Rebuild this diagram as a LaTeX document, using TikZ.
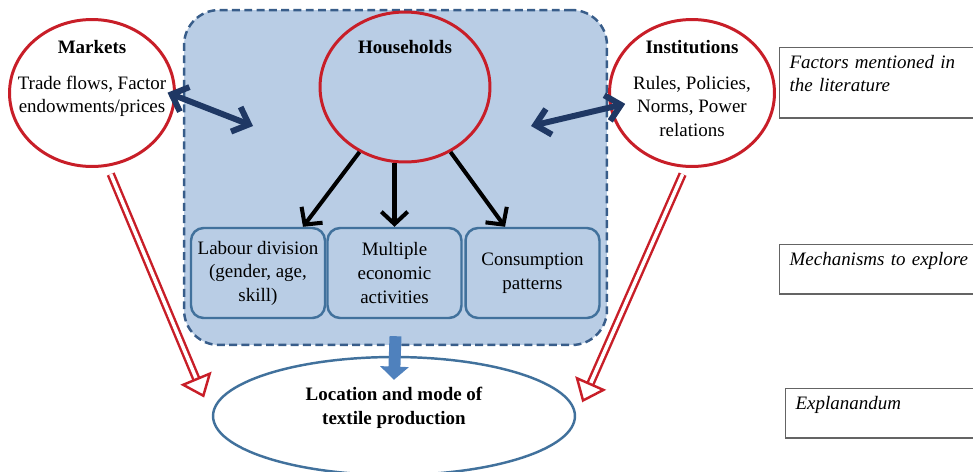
\documentclass[tikz,border=0pt]{standalone}
\usepackage{fontspec}
\setmainfont{Liberation Serif}
\usetikzlibrary{shapes.geometric,arrows.meta}
\definecolor{zoneFill}{RGB}{185,205,229}
\definecolor{zoneEdge}{RGB}{56,93,138}
\definecolor{boxEdge}{RGB}{65,113,156}
\definecolor{factorRed}{RGB}{200,30,40}
\definecolor{linkNavy}{RGB}{31,56,100}
\definecolor{blockBlue}{RGB}{79,129,189}
\definecolor{noteGray}{RGB}{100,100,100}
\tikzset{
  every node/.style={font=\fontsize{10.8}{13.4}\selectfont},
  factor/.style={ellipse, draw=factorRed, line width=1.7pt, inner sep=0pt,
    minimum width=3.3cm, minimum height=2.94cm},
  zone/.style={draw=zoneEdge, fill=zoneFill, line width=1.4pt,
    dash pattern=on 4.5pt off 2.5pt, rounded corners=0.7cm,
    minimum width=8.46cm, minimum height=6.7cm},
  mech/.style={draw=boxEdge, line width=1.4pt, rounded corners=0.25cm,
    minimum width=2.68cm, minimum height=1.8cm, align=center, inner sep=0pt},
  note/.style={draw=noteGray, line width=0.7pt, anchor=north west,
    text width=4.6cm, align=left, inner xsep=0.2cm, inner ysep=4.3pt,
    font=\fontsize{10.8}{13.4}\selectfont\itshape},
  ttl/.style={font=\fontsize{10.8}{13.4}\selectfont\bfseries, align=center},
  body/.style={align=center},
  link/.style={linkNavy, line width=3.4pt,
    {Straight Barb[length=8pt,width=15pt]}-{Straight Barb[length=8pt,width=15pt]}},
  drive/.style={black, line width=2.3pt, -{Straight Barb[length=7pt,width=15pt]}},
  feed/.style={factorRed, line width=1.4pt, double=white, double distance=2pt,
    -{Triangle[open,length=12pt,width=19pt]}},
  block/.style={blockBlue, line width=6.8pt, -{Triangle[length=7.5pt,width=16pt]}}
}
\begin{document}
\begin{tikzpicture}[x=0.02cm,y=0.02cm]
\useasboundingbox (0,0) rectangle (973,-471);
\clip (0,0) rectangle (973,-471);

\node[zone] (hhzone) at (395.5,-177.5) {};
\node[factor, minimum width=3.4cm, minimum height=3cm] (hh) at (405,-87) {};
\node[ttl] (hh-t) at (405,-47) {Households};
\node[mech] (lab) at (258,-273) {Labour division\\(gender, age,\\skill)};
\node[mech] (mult) at (394.5,-273) {Multiple\\economic\\activities};
\node[mech] (cons) at (532.5,-273) {Consumption\\patterns};

\node[factor, fill=white] (mkt) at (92,-93) {};
\node[ttl] (mkt-t) at (92,-47) {Markets};
\node[body] (mkt-b) at (92,-96.5) {Trade flows, Factor\\endowments/prices};
\node[factor, fill=white] (inst) at (692,-93) {};
\node[ttl] (inst-t) at (692,-47) {Institutions};
\node[body] (inst-b) at (692,-106.5) {Rules, Policies,\\Norms, Power\\relations};

\node[ellipse, draw=boxEdge, line width=1.4pt, minimum width=7.24cm,
  minimum height=2.36cm] (out) at (394,-416) {};
\node[ttl] (out-t) at (394,-408) {Location and mode of\\textile production};

\node[note, text depth=23.9pt] (n-lit) at (779,-47) {Factors mentioned in\\the literature};
\node[note, text depth=12pt] (n-mech) at (779,-244) {Mechanisms to explore};
\node[note, text depth=12pt] (n-expl) at (785,-388) {Explanandum};

\coordinate (hh-w) at (253,-126);
\coordinate (hh-e) at (531,-126);
\draw[link, shorten <=-0.18cm] (mkt.-2) -- (hh-w);
\draw[link, shorten >=-0.32cm] (hh-e) -- (inst.190);

\draw[drive] (hh.235) -- ([xshift=0.9cm]lab.north);
\draw[drive] (hh.south -| mult.north) -- (mult.north);
\draw[drive] (hh.305) -- ([xshift=-0.55cm]cons.north);

\draw[feed, shorten <=0.16cm, shorten >=0.4cm] (mkt.-78) -- (out.west);
\draw[feed, shorten <=0.14cm, shorten >=0.3cm] (inst.-95) -- (out.east);

\draw[block] ([yshift=0.2cm]hhzone.south) -- ([yshift=-0.48cm]out.north);
\end{tikzpicture}
\end{document}
